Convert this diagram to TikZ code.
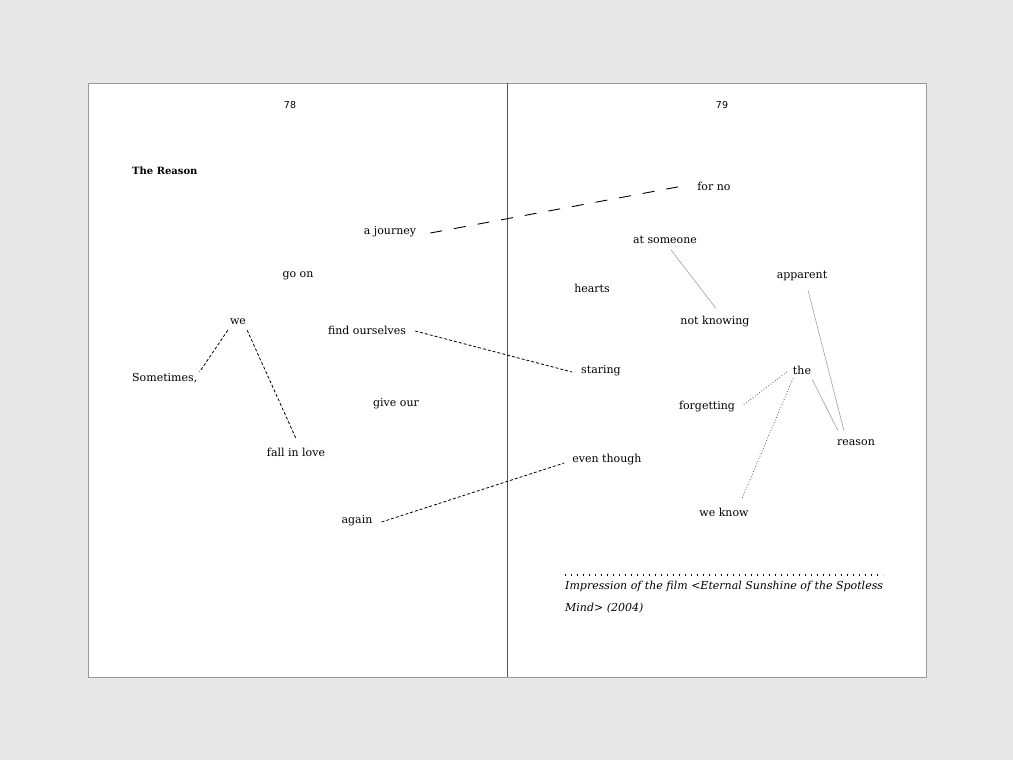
\documentclass[tikz,border=0pt]{standalone}
\usepackage{fontspec}
\setmainfont{DejaVu Serif}
\newfontfamily\pnfont{DejaVu Sans}
\usetikzlibrary{calc}
\definecolor{bg}{HTML}{E8E8E8}
\definecolor{frame}{HTML}{9A9A9A}
\definecolor{thin}{HTML}{A0A0A0}
\definecolor{dotc}{HTML}{555555}
\tikzset{
  word/.style={inner sep=1pt, font=\fontsize{11}{13}\selectfont},
  pnum/.style={inner sep=1pt, font=\pnfont\fontsize{9.5}{11}\selectfont},
  longdash/.style={draw=black, line width=0.9pt, dash pattern=on 12pt off 12pt},
  shortdash/.style={draw=black, line width=0.8pt, dash pattern=on 3pt off 2pt},
  greyline/.style={draw=thin, line width=0.6pt},
  dotline/.style={draw=dotc, line width=0.8pt, dash pattern=on 0.8pt off 2pt},
}
\begin{document}
\begin{tikzpicture}[x=1pt,y=-1pt]
\fill[bg] (0,0) rectangle (1013,760);
\useasboundingbox (0,0) rectangle (1013,760);
\filldraw[fill=white, draw=frame, line width=0.8pt] (88,83) rectangle (926,677);
\draw[dotc, line width=0.9pt] (507,83) -- (507,677);

\node[pnum] (p78) at (290,105) {78};
\node[pnum] (p79) at (722,105) {79};
\node[word, anchor=west, font=\bfseries\fontsize{10}{12}\selectfont] (title) at (131,171) {The Reason};

% left page words
\node[word] (journey) at (390,232) {a journey};
\node[word] (goon) at (298,276) {go on};
\node[word] (we) at (238,322) {we};
\node[word, anchor=west] (sometimes) at (131,378) {Sometimes,};
\node[word] (find) at (367,330) {find ourselves};
\node[word] (give) at (396,404) {give our};
\node[word] (fall) at (296,452) {fall in love};
\node[word] (again) at (357,521) {again};

% right page words
\node[word] (forno) at (714,186) {for no};
\node[word] (atsomeone) at (665,240) {at someone};
\node[word] (hearts) at (592,288) {hearts};
\node[word] (apparent) at (802,276) {apparent};
\node[word] (notknowing) at (715,322) {not knowing};
\node[word] (staring) at (601,371) {staring};
\node[word] (the) at (802,370) {the};
\node[word] (forgetting) at (707,407) {forgetting};
\node[word] (reason) at (856,443) {reason};
\node[word] (eventhough) at (607,460) {even though};
\node[word] (weknow) at (724,512) {we know};

% connectors
\draw[longdash] ($(journey.east)+(13,1)$) -- ($(forno.west)+(-8,-1)$);
\draw[shortdash] ($(we.south west)+(-1,4)$) -- ($(sometimes.north east)+(1,0)$);
\draw[shortdash] ($(we.south east)+(0,4)$) -- ($(fall.north)+(0,-8)$);
\draw[shortdash] ($(find.east)+(8,1)$) -- ($(staring.west)+(-8,1)$);
\draw[shortdash] ($(again.east)+(8,1)$) -- ($(eventhough.west)+(-7,3)$);
\draw[greyline] ($(atsomeone.south)+(6,5)$) -- ($(notknowing.north)+(1,-7)$);
\draw[greyline] ($(apparent.south)+(6,8)$) -- ($(reason.north)+(-12,-8)$);
\draw[greyline] ($(the.south east)+(0,4)$) -- ($(reason.north)+(-18,-8)$);
\draw[dotline] ($(the.west)+(-5,2)$) -- ($(forgetting.east)+(7,-2)$);
\draw[dotline] ($(the.south)+(-9,3)$) -- ($(weknow.north)+(18,-8)$);

% footnote
\coordinate (fnl) at (565,575);
\coordinate (fnr) at (883,575);
\draw[draw=black, line width=1.1pt, dash pattern=on 1.1pt off 4.9pt] (fnl) -- (fnr);
\node[anchor=north west, inner sep=0pt, align=left, font=\itshape\fontsize{11}{22}\selectfont] (note) at (565,581)
  {Impression of the film <Eternal Sunshine of the Spotless\\Mind> (2004)};
\end{tikzpicture}
\end{document}
